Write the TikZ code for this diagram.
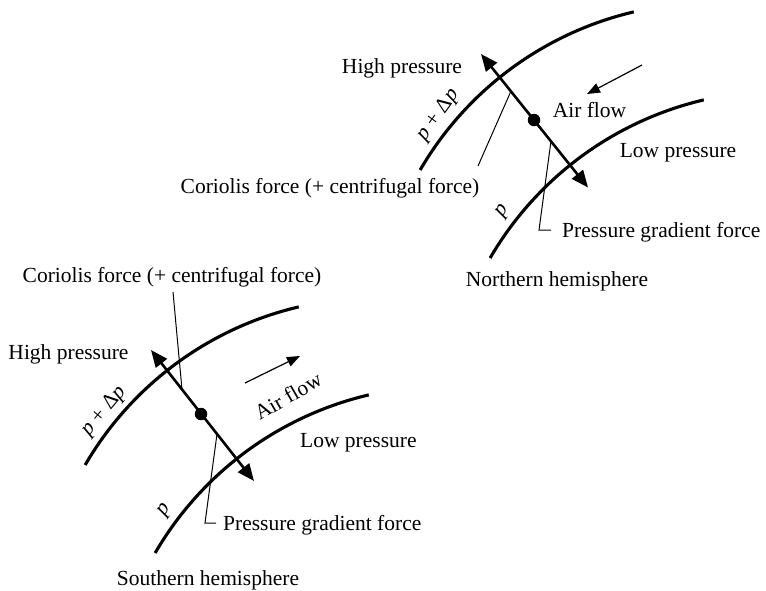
\documentclass[tikz,border=0pt]{standalone}
\usepackage{fontspec}
\setmainfont{Liberation Serif}
\usetikzlibrary{arrows.meta}
\begin{document}
\begin{tikzpicture}[x=1pt,y=-1pt,
  curve/.style={line width=3.1pt},
  force/.style={line width=2.6pt,{Triangle[length=17pt,width=14pt]}-{Triangle[length=17pt,width=14pt]}},
  flow/.style={line width=1.2pt,-{Triangle[length=13pt,width=10pt]}},
  leader/.style={line width=1pt},
  dotnode/.style={circle,fill=black,draw=none,inner sep=0pt,minimum size=12.5pt},
  lbl/.style={font=\fontsize{21.5}{24}\selectfont,inner sep=0pt,anchor=base},
  rlbl/.style={font=\fontsize{21.5}{24}\selectfont,inner sep=0pt},
]
\useasboundingbox (0,0) rectangle (766,590);

% ---------------- Northern hemisphere ----------------
\draw[curve] plot[domain=210.2:256.8,samples=60] ({710.5+336*cos(\x)},{339+336*sin(\x)});
\draw[curve] plot[domain=210.2:256.8,samples=60] ({780.5+336*cos(\x)},{427+336*sin(\x)});

\coordinate (ntop) at (481,54);
\coordinate (nbot) at (588,187.5);
\draw[force] (ntop) -- (nbot);
\node[dotnode] (ndot) at (534,120) {};

\node[lbl] (nhigh) at (402,73) {High pressure};
\node[lbl] (nair) at (589.5,117) {Air flow};
\node[lbl] (nlow) at (678,157) {Low pressure};
\node[lbl] (ncor) at (330,193) {Coriolis force (+ centrifugal force)};
\node[lbl,anchor=base west] (npg) at (562,237) {Pressure gradient force};
\node[lbl] (nhemi) at (557,286) {Northern hemisphere};
\node[rlbl,rotate=54] (npdp) at (438,115) {\textit{p} + Δ\textit{p}};
\node[rlbl,rotate=55] (np) at (503,211) {\textit{p}};

\coordinate (nfA) at (642,65);
\coordinate (nfB) at (587,94);
\draw[flow] (nfA) -- (nfB);

\coordinate (ncA) at (511,91);
\coordinate (ncB) at (478,166);
\draw[leader] (ncA) -- (ncB);

\coordinate (npA) at (551,141);
\coordinate (npB) at (539,230);
\coordinate (npC) at (551,230);
\draw[leader] (npA) -- (npB) -- (npC);

% ---------------- Southern hemisphere ----------------
\draw[curve] plot[domain=210.2:256.8,samples=60] ({375.5+336*cos(\x)},{634+336*sin(\x)});
\draw[curve] plot[domain=210.2:256.8,samples=60] ({445.5+336*cos(\x)},{722+336*sin(\x)});

\coordinate (stop) at (151,350);
\coordinate (sbot) at (254,481);
\draw[force] (stop) -- (sbot);
\node[dotnode] (sdot) at (201,414) {};

\node[lbl] (scor) at (172,282) {Coriolis force (+ centrifugal force)};
\node[lbl] (shigh) at (68.5,359) {High pressure};
\node[rlbl,rotate=30] (sair) at (288,396) {Air flow};
\node[lbl,anchor=base west] (slow) at (300,447) {Low pressure};
\node[lbl,anchor=base west] (spg) at (223,530) {Pressure gradient force};
\node[lbl] (shemi) at (208,585) {Southern hemisphere};
\node[rlbl,rotate=50] (spdp) at (104,411) {\textit{p} + Δ\textit{p}};
\node[rlbl,rotate=55] (sp) at (165,510) {\textit{p}};

\coordinate (sfA) at (245,383);
\coordinate (sfB) at (300,356);
\draw[flow] (sfA) -- (sfB);

\coordinate (scA) at (182,389.5);
\coordinate (scB) at (173,292);
\draw[leader] (scA) -- (scB);

\coordinate (spA) at (217,434);
\coordinate (spB) at (205,523);
\coordinate (spC) at (216,523);
\draw[leader] (spA) -- (spB) -- (spC);
\end{tikzpicture}
\end{document}
